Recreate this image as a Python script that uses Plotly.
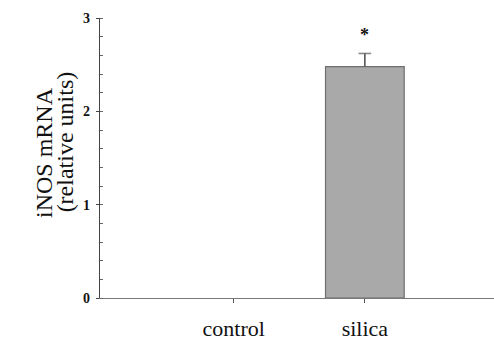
import plotly.graph_objects as go

categories = ["control", "silica"]
values = [0.0, 2.48]
errors_up = [0.0, 0.14]
sig_marks = ["", "*"]
sig_y = [0.0, 2.82]
y_ticks = [0, 1, 2, 3]
y_title_lines = ["iNOS mRNA", "(relative units)"]

fig = go.Figure()
fig.add_trace(go.Bar(
    x=[0, 1], y=values, width=0.6,
    marker=dict(color="#a9a9a9",
                line=dict(color="#6e6e6e", width=[1.2 if v > 0 else 0 for v in values])),
    showlegend=False,
))
# upward-only error bars
for i, (v, e) in enumerate(zip(values, errors_up)):
    if e > 0:
        fig.add_trace(go.Scatter(
            x=[i, i], y=[v, v + e], mode="lines+markers",
            line=dict(color="#555555", width=1.6),
            marker=dict(symbol=["line-ew-open", "line-ew-open"], size=[0, 9],
                        line=dict(color="#555555", width=1.6)),
            showlegend=False, hoverinfo="skip",
        ))
for i, (m, yv) in enumerate(zip(sig_marks, sig_y)):
    if m:
        fig.add_annotation(x=i, y=yv, text="<b>" + m + "</b>", showarrow=False,
                           font=dict(family="Liberation Serif", size=18, color="#111"))

# y title as two rotated lines
title_pos = [(-0.142, 0.518), (-0.088, 0.557)]
for txt, (px, py) in zip(y_title_lines, title_pos):
    fig.add_annotation(x=px, y=py, xref="paper", yref="paper", text=txt,
                       textangle=-90, showarrow=False, xanchor="center", yanchor="middle",
                       font=dict(family="Liberation Serif", size=24, color="#111"))

fig.update_layout(
    width=494, height=341,
    margin=dict(l=100, r=0, t=18, b=43),
    plot_bgcolor="white", paper_bgcolor="white",
    font=dict(family="Liberation Serif", color="#111"),
)
fig.update_xaxes(
    range=[-1.02, 1.985], tickvals=[0, 1], ticktext=categories,
    showline=True, linecolor="#777", linewidth=1.2,
    ticks="outside", ticklen=4, tickcolor="#555",
    tickfont=dict(size=22, family="Liberation Serif", color="#111"),
    ticklabelstandoff=6,
    showgrid=False, zeroline=False,
)
fig.update_yaxes(
    range=[0, 3], tickvals=y_ticks, ticktext=["<b>%d</b>" % t for t in y_ticks],
    showline=True, linecolor="#444", linewidth=1.2,
    ticks="outside", ticklen=3, tickcolor="#444",
    ticklabelstandoff=3,
    minor=dict(dtick=0.2, ticks="inside", ticklen=3, tickcolor="#666", showgrid=False),
    tickfont=dict(size=14, family="Liberation Serif", color="#111"),
    showgrid=False, zeroline=False,
)
fig.write_html("out.html")
